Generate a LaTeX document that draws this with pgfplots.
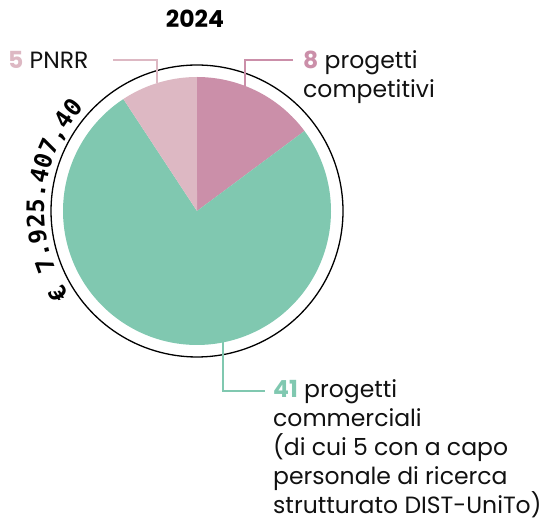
\documentclass[border=0pt]{standalone}
\usepackage{pgfplots}
\pgfplotsset{compat=1.18}
\usepackage{fontspec}
\setmainfont{Poppins}
\newfontfamily\monof{DejaVu Sans Mono}
\usetikzlibrary{decorations.text}
\definecolor{comp}{HTML}{CB8FA9}
\definecolor{pnrr}{HTML}{DDB8C3}
\definecolor{comm}{HTML}{80C8B0}
\definecolor{ink}{HTML}{111111}
\tikzset{lbl/.style={font=\fontsize{23.5}{29}\selectfont,text=ink,inner sep=0pt}}
% project counts 2024: competitivi 8, commerciali 41, PNRR 5 (total 54)
\def\tot{54}
\begin{document}
\begin{tikzpicture}
\begin{axis}[x=1pt,y=1pt,xmin=0,xmax=548,ymin=0,ymax=519,hide axis,clip=false]
\path (axis cs:0,0) rectangle (axis cs:548,519);
% wedges, clockwise from 12 o'clock; the domain runs over cumulative counts
\addplot[fill=comp,draw=none,domain=0:8,samples=40]
  ({197+134*cos(90-360*x/\tot)},{308+134*sin(90-360*x/\tot)}) -- (axis cs:197,308) -- cycle;
\addplot[fill=comm,draw=none,domain=8:49,samples=120]
  ({197+134*cos(90-360*x/\tot)},{308+134*sin(90-360*x/\tot)}) -- (axis cs:197,308) -- cycle;
\addplot[fill=pnrr,draw=none,domain=49:54,samples=30]
  ({197+134*cos(90-360*x/\tot)},{308+134*sin(90-360*x/\tot)}) -- (axis cs:197,308) -- cycle;
% outer ring
\addplot[black,line width=1.3pt,domain=0:360,samples=180]
  ({197+146*cos(x)},{308+146*sin(x)});
% leaders
\addplot[pnrr,line width=2pt] coordinates {(113,459) (157,459) (157,436)};
\addplot[comp,line width=2pt] coordinates {(293,459) (245,459) (245,433)};
\addplot[comm,line width=2pt] coordinates {(223,177) (223,128) (265,128)};
% curved amount
\path[decorate,decoration={text along path,text align=center,
  text={|\monof\bfseries\fontsize{24}{24}\selectfont|€ 7.925.407,40}}]
  (axis cs:{197+153*cos(235)},{308+153*sin(235)}) arc[start angle=235,end angle=116,radius=153pt];
% texts
\node[anchor=base,font=\fontsize{23.5}{25}\selectfont\bfseries,inner sep=0pt] at (axis cs:195,491) {2024};
\node[lbl,anchor=base west] at (axis cs:8,450) {\textcolor{pnrr}{\bfseries 5} PNRR};
\node[lbl,anchor=base west,align=left] at (axis cs:303,421) {\textcolor{comp}{\bfseries 8} progetti\\competitivi};
\node[lbl,anchor=base west,align=left] at (axis cs:273,6) {\textcolor{comm}{\bfseries 41} progetti\\commerciali\\(di cui 5 con a capo\\personale di ricerca\\strutturato DIST-UniTo)};
\end{axis}
\end{tikzpicture}
\end{document}
